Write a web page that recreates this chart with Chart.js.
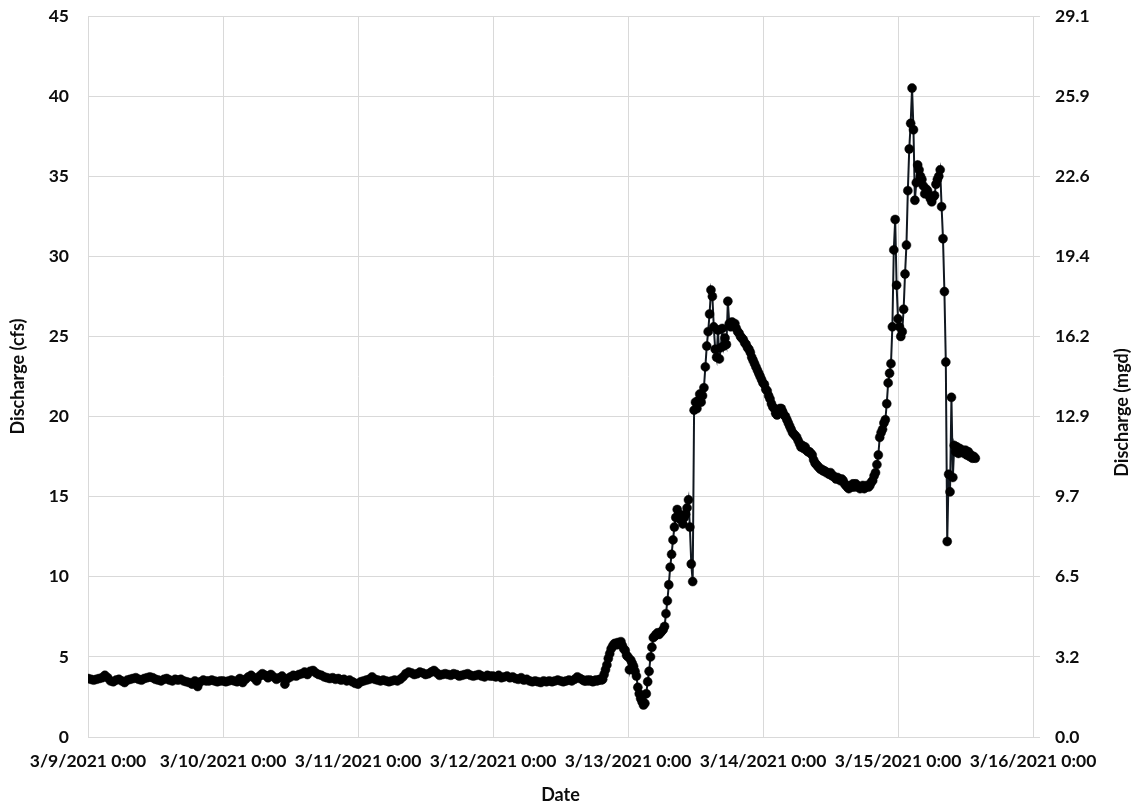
<!DOCTYPE html>
<html><head><meta charset="utf-8">
<script src="https://cdn.jsdelivr.net/npm/chart.js@4.4.1/dist/chart.umd.min.js"></script>
<style>html,body{margin:0;padding:0;background:#fff}canvas{display:block}</style>
</head><body>
<canvas id="c" width="1140" height="808"></canvas>
<script>
const xTickLabels = ['3/9/2021 0:00','3/10/2021 0:00','3/11/2021 0:00','3/12/2021 0:00','3/13/2021 0:00','3/14/2021 0:00','3/15/2021 0:00','3/16/2021 0:00'];
const leftTickLabels = ['0','5','10','15','20','25','30','35','40','45'];
const rightTickLabels = ['0.0','3.2','6.5','9.7','12.9','16.2','19.4','22.6','25.9','29.1'];

// baseline record: hours after 3/9/2021 0:00, every 30 minutes
const baseStartHour = 0;
const baseStepHours = 0.5;
const baseFlow = [
3.65,3.6,3.55,3.6,3.65,3.7,3.85,3.7, 3.5,3.45,3.55,3.6,3.5,3.4,3.55,3.6,
3.65,3.7,3.6,3.55,3.65,3.7,3.75,3.7, 3.6,3.55,3.5,3.6,3.65,3.55,3.5,3.6,
3.55,3.6,3.5,3.45,3.4,3.3,3.5,3.15, 3.45,3.55,3.5,3.5,3.55,3.5,3.45,3.5,
3.5,3.45,3.5,3.55,3.5,3.45,3.65,3.4, 3.6,3.75,3.85,3.7,3.5,3.8,3.95,3.85,
3.7,3.9,3.75,3.6,3.7,3.8,3.3,3.65, 3.75,3.85,3.8,3.9,3.95,4.05,3.9,4.1,
4.15,4.0,3.9,3.85,3.75,3.7,3.65,3.7, 3.6,3.65,3.55,3.6,3.5,3.55,3.45,3.35,
3.3,3.45,3.5,3.55,3.6,3.75,3.6,3.55, 3.5,3.55,3.5,3.45,3.5,3.55,3.5,3.6,
3.75,3.95,4.05,4.0,3.9,3.95,4.05,4.0, 3.9,3.95,4.05,4.15,4.0,3.85,3.9,3.95,
3.9,3.85,3.95,3.9,3.8,3.85,3.9,3.95, 3.85,3.8,3.85,3.9,3.8,3.75,3.85,3.8,
3.8,3.75,3.85,3.7,3.75,3.8,3.7,3.75, 3.65,3.6,3.7,3.55,3.6,3.5,3.45,3.5,
3.45,3.4,3.5,3.45,3.5,3.45,3.5,3.55, 3.5,3.45,3.5,3.55,3.5,3.6,3.75,3.65
];

// storm record: hours after 3/9/2021 0:00, every 15 minutes
const eventStartHour = 88;
const eventStepHours = 0.25;
const eventFlow = [
3.55,3.5,3.5,3.55, 3.5,3.55,3.5,3.45, 3.5,3.55,3.5,3.55, 3.6,3.55,3.6,3.9,
4.2,4.5,4.9,5.2, 5.5,5.65,5.8,5.85, 5.75,5.9,5.8,5.95, 5.7,5.5,5.4,5.1,
5.0,4.2,4.8,4.6, 4.4,4.1,3.8,3.1, 2.7,2.4,2.2,2.0, 2.1,2.7,3.45,4.1,
5.0,5.6,6.2,6.3, 6.4,6.5,6.4,6.5, 6.6,6.7,6.9,7.7, 8.5,9.5,10.6,11.4,
12.3,13.1,13.7,14.2, 13.9,13.6,13.85,13.3, 13.7,13.9,14.3,14.8, 13.1,10.8,9.7,20.4,
20.9,20.5,21.0,21.4, 20.9,21.3,21.8,23.1, 24.4,25.3,26.4,27.9, 27.5,25.6,24.2,23.7,
25.4,23.6,24.3,25.5, 24.4,24.9,24.5,27.2, 25.8,25.6,25.9,25.7, 25.8,25.5,25.3,25.2,
25.0,24.9,24.8,24.6, 24.5,24.3,24.2,24.0, 23.7,23.5,23.3,23.1, 22.9,22.7,22.5,22.3,
22.1,22.0,21.7,21.6, 21.3,21.1,20.8,20.6, 20.5,20.2,20.1,20.3, 20.5,20.5,20.3,20.1,
20.0,19.8,19.6,19.4, 19.2,19.0,18.9,18.8, 18.7,18.5,18.3,18.1, 18.2,18.0,18.1,17.9,
17.8,17.8,17.7,17.6, 17.3,17.1,17.0,16.9, 16.8,16.7,16.7,16.6, 16.6,16.5,16.5,16.4,
16.5,16.3,16.3,16.2, 16.1,16.2,16.1,16.0, 16.1,16.0,15.8,15.7, 15.6,15.5,15.7,15.6,
15.8,15.6,15.8,15.7, 15.6,15.5,15.6,15.7, 15.5,15.6,15.7,15.6, 15.7,15.9,16.0,16.3,
16.5,17.0,17.6,18.7, 19.0,19.2,19.6,19.8, 20.8,22.1,22.7,23.3, 25.6,30.4,32.3,28.2,
26.1,25.6,25.0,25.3, 26.7,28.9,30.7,34.1, 36.7,38.3,40.5,37.9, 33.5,34.6,35.7,35.4,
35.0,34.8,34.4,33.9, 34.2,34.1,33.8,33.6, 33.4,33.7,33.8,34.5, 34.8,35.0,35.4,33.1,
31.1,27.8,23.4,12.2, 16.4,15.3,21.2,16.2, 18.2,17.8,18.1,17.7, 18.0,17.8,17.9,17.7,
17.9,17.6,17.8,17.5, 17.6,17.4,17.5,17.4
];

const points = baseFlow.map((v, i) => ({x: baseStartHour + i * baseStepHours, y: v}))
  .concat(eventFlow.map((v, i) => ({x: eventStartHour + i * eventStepHours, y: v})));

const FONT = 'Lato';
const TXT = '#0d0d0d';
const GRID = '#d9d9d9';
const tickFont = {family: FONT, size: 17.5, weight: 'bold'};
const titleFont = {family: FONT, size: 18, weight: 'bold'};

const rightTitle = {
  id: 'rightTitle',
  afterDraw(chart) {
    const ctx = chart.ctx;
    const a = chart.chartArea;
    ctx.save();
    ctx.translate(1122, (a.top + a.bottom) / 2 + 36);
    ctx.rotate(-Math.PI / 2);
    ctx.font = 'bold 18px Lato';
    ctx.fillStyle = TXT;
    ctx.textAlign = 'center';
    ctx.textBaseline = 'middle';
    ctx.fillText('Discharge (mgd)', 0, 0);
    ctx.restore();
  }
};

const fixV = w => s => { s.width = w; s.paddingTop = 0; s.paddingBottom = 0; };

new Chart(document.getElementById('c'), {
  type: 'line',
  data: {
    datasets: [{
      data: points,
      borderColor: '#111820',
      borderWidth: 2,
      pointRadius: 4.5,
      pointBackgroundColor: '#000',
      pointBorderColor: '#000',
      pointBorderWidth: 0.5,
      tension: 0,
      yAxisID: 'y'
    }]
  },
  options: {
    responsive: false,
    animation: false,
    devicePixelRatio: 1,
    layout: {padding: {top: 16, left: 0, right: 0, bottom: 0}},
    plugins: {legend: {display: false}, tooltip: {enabled: false}},
    scales: {
      x: {
        type: 'linear', min: 0, max: 168,
        afterBuildTicks: s => { s.ticks = xTickLabels.map((_, i) => ({value: i * 24})); },
        ticks: {callback: (v, i) => xTickLabels[i], maxRotation: 0, minRotation: 0, autoSkip: false, padding: 14, font: tickFont, color: TXT},
        grid: {color: GRID, drawTicks: false, lineWidth: 1},
        border: {display: true, color: GRID},
        title: {display: true, text: 'Date', font: titleFont, color: TXT, padding: {top: 0, bottom: 2}},
        afterFit: s => { s.height = 71; s.paddingLeft = 0; s.paddingRight = 0; }
      },
      y: {
        position: 'left', min: 0, max: 45,
        afterBuildTicks: s => { s.ticks = leftTickLabels.map((_, i) => ({value: i * 5})); },
        ticks: {callback: (v, i) => leftTickLabels[i], padding: 19, font: tickFont, color: TXT},
        grid: {color: GRID, drawTicks: false, lineWidth: 1},
        border: {display: true, color: GRID},
        title: {display: true, text: 'Discharge (cfs)', font: titleFont, color: TXT, padding: {top: 7, bottom: 0}},
        afterFit: fixV(88)
      },
      y2: {
        position: 'right', min: 0, max: 45,
        afterBuildTicks: s => { s.ticks = rightTickLabels.map((_, i) => ({value: i * 5})); },
        ticks: {callback: (v, i) => rightTickLabels[i], padding: 15, font: tickFont, color: TXT},
        grid: {drawOnChartArea: false, color: GRID, tickLength: 7, lineWidth: 1},
        border: {display: true, color: GRID},
        afterFit: fixV(107)
      }
    }
  },
  plugins: [rightTitle]
});
</script>
</body></html>
